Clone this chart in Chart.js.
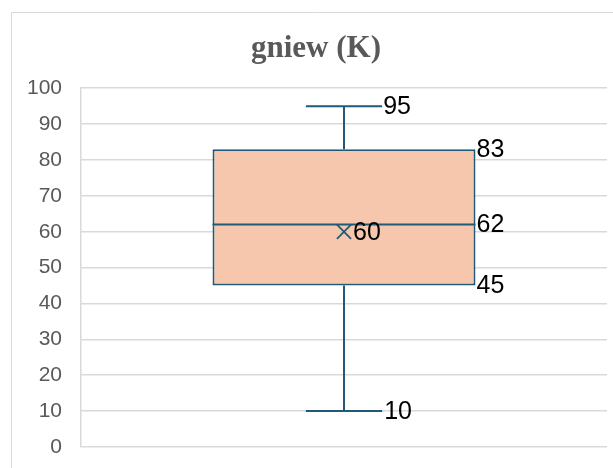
<!DOCTYPE html>
<html>
<head>
<meta charset="utf-8">
<script src="https://cdn.jsdelivr.net/npm/chart.js@4"></script>
<style>
  html, body { margin: 0; padding: 0; background: #fff; }
  #wrap { width: 613px; height: 468px; }
</style>
</head>
<body>
<div id="wrap"><canvas id="box"></canvas></div>
<script>
// dane
const seriesName = 'gniew (K)';
const categories = [''];
const minValues = [10];
const q1Values = [45];
const medianValues = [62];
const q3Values = [83];
const maxValues = [95];
const meanValues = [60];
const yMin = 0, yMax = 100, yStep = 10;

const lineColor = '#1f5b78';
const boxColor = '#f6c7ac';

// rysowanie wąsów, mediany i etykiet
const boxPlotExtras = {
  id: 'boxPlotExtras',
  beforeDraw(chart) {
    const c = chart.ctx;
    c.save();
    c.strokeStyle = '#d9d9d9';
    c.lineWidth = 1;
    c.beginPath();
    c.moveTo(11.5, chart.height);
    c.lineTo(11.5, 12.5);
    c.lineTo(chart.width, 12.5);
    c.stroke();
    c.restore();
  },
  afterDatasetsDraw(chart) {
    const c = chart.ctx;
    const y = chart.scales.y;
    const bars = chart.getDatasetMeta(0).data;
    c.save();
    c.strokeStyle = lineColor;
    c.lineWidth = 2;
    c.fillStyle = '#000';
    c.font = '25px "Liberation Sans", Arial, sans-serif';
    c.textBaseline = 'middle';
    bars.forEach((bar, i) => {
      const cx = bar.x;
      const half = bar.width / 2;
      const cap = bar.width * 0.145;
      const yMaxPx = y.getPixelForValue(maxValues[i]);
      const yMinPx = y.getPixelForValue(minValues[i]);
      const yQ1 = y.getPixelForValue(q1Values[i]);
      const yQ3 = y.getPixelForValue(q3Values[i]);
      const yMed = y.getPixelForValue(medianValues[i]);
      c.beginPath();
      c.moveTo(cx, yQ3); c.lineTo(cx, yMaxPx);
      c.moveTo(cx - cap, yMaxPx); c.lineTo(cx + cap, yMaxPx);
      c.moveTo(cx, yQ1); c.lineTo(cx, yMinPx);
      c.moveTo(cx - cap, yMinPx); c.lineTo(cx + cap, yMinPx);
      c.moveTo(cx - half, yMed); c.lineTo(cx + half, yMed);
      c.stroke();
      c.fillText(String(maxValues[i]), cx + cap + 1, yMaxPx + 1);
      c.fillText(String(minValues[i]), cx + cap + 2, yMinPx + 1);
      c.fillText(String(q3Values[i]), cx + half + 1, yQ3 + 1);
      c.fillText(String(medianValues[i]), cx + half + 1, yMed + 1);
      c.fillText(String(q1Values[i]), cx + half + 1, yQ1 + 1);
    });
    const pts = chart.getDatasetMeta(1).data;
    pts.forEach((p, i) => {
      c.fillText(String(meanValues[i]), p.x + 9, p.y + 1);
    });
    c.restore();
  }
};

new Chart(document.getElementById('box'), {
  type: 'bar',
  data: {
    labels: categories,
    datasets: [{
      label: seriesName,
      data: q1Values.map((q1, i) => [q1, q3Values[i]]),
      backgroundColor: boxColor,
      borderColor: lineColor,
      borderWidth: 2,
      borderSkipped: false,
      barPercentage: 0.5,
      categoryPercentage: 1,
      order: 2
    }, {
      type: 'line',
      label: 'średnia',
      data: meanValues,
      showLine: false,
      pointStyle: 'crossRot',
      pointRadius: 10,
      pointBorderColor: lineColor,
      pointBorderWidth: 1.8,
      order: 1
    }]
  },
  options: {
    responsive: true,
    maintainAspectRatio: false,
    animation: false,
    layout: { autoPadding: false, padding: { left: 25, right: 6, top: 0, bottom: 21 } },
    plugins: {
      legend: { display: false },
      tooltip: { enabled: false },
      title: {
        display: true,
        text: seriesName,
        color: '#595959',
        font: { family: '"Liberation Serif", "Times New Roman", serif', size: 31, weight: 'bold' },
        padding: { top: 30, bottom: 21 }
      }
    },
    scales: {
      x: { display: false },
      y: {
        min: yMin,
        max: yMax,
        ticks: {
          stepSize: yStep,
          color: '#595959',
          padding: 19,
          font: { family: '"Liberation Sans", Arial, sans-serif', size: 21 }
        },
        grid: { color: '#d9d9d9', drawTicks: false, lineWidth: 1.5 },
        border: { color: '#d9d9d9', width: 1.5 },
        afterFit(scale) {
          scale.width = 56;
          scale.paddingTop = 0;
          scale.paddingBottom = 0;
        }
      }
    }
  },
  plugins: [boxPlotExtras]
});
</script>
</body>
</html>
